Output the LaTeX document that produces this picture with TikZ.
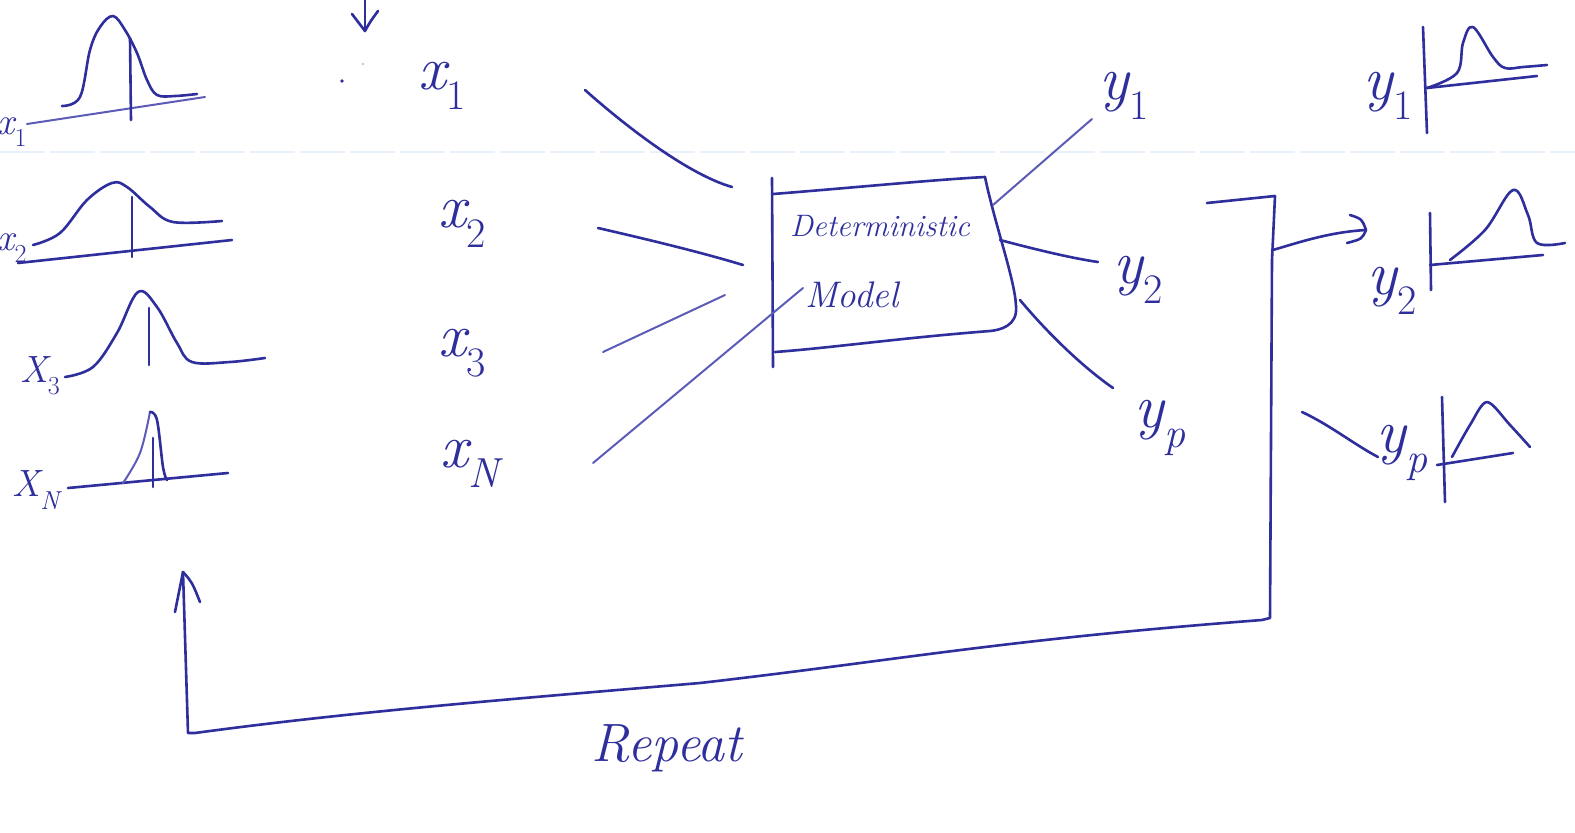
\documentclass[tikz,border=0pt]{standalone}
\usetikzlibrary{arrows.meta}
\definecolor{inkc}{RGB}{46,46,156}
\definecolor{inkl}{RGB}{92,92,184}
\definecolor{ruleblue}{RGB}{232,241,249}
\newcommand{\bigsub}[1]{\raisebox{-0.32em}{\upshape\fontsize{42}{46}\selectfont #1}}
\newcommand{\bigsubi}[1]{\raisebox{-0.32em}{\itshape\fontsize{42}{46}\selectfont #1}}
\newcommand{\smsub}[1]{\raisebox{-0.32em}{\upshape\fontsize{26}{30}\selectfont #1}}
\newcommand{\smsubi}[1]{\raisebox{-0.32em}{\itshape\fontsize{26}{30}\selectfont #1}}
\begin{document}
\begin{tikzpicture}[x=1pt,y=-1pt,
  pen/.style={draw=inkc,line width=2.6pt,line cap=round,line join=round},
  penl/.style={draw=inkl,line width=2pt,line cap=round,line join=round},
  biglbl/.style={text=inkc,inner sep=0pt,font=\itshape\fontsize{62}{70}\selectfont},
  distlbl/.style={text=inkc,inner sep=0pt,font=\itshape\fontsize{38}{44}\selectfont},
  wordlbl/.style={text=inkc,inner sep=0pt,font=\itshape\fontsize{31}{36}\selectfont},
  modlbl/.style={text=inkc,inner sep=0pt,font=\itshape\fontsize{37}{42}\selectfont},
  replbl/.style={text=inkc,inner sep=0pt,font=\itshape\fontsize{54}{62}\selectfont}]
\useasboundingbox (0,0) rectangle (1575,833);
\fill[white] (0,0) rectangle (1575,833);
% faint ruled line of the paper
\draw[ruleblue,line width=1.2pt,dash pattern=on 45pt off 5pt] (0,152) -- (1575,152);

% top arrow and dots
\coordinate (ta) at (365,-2);
\coordinate (tb) at (365,31);
\draw[pen] (ta) -- (tb);
\draw[pen] (352,14) .. controls (358,22) .. (tb) .. controls (370,22) .. (378,11);
\fill[inkc] (342,81) circle (1.8);
\fill[inkl!50] (363,64) circle (1.2);

% ---------- input distributions ----------
% x1
\node[distlbl] (dl1) at (12,132) {x\smsub{1}};
\draw[penl] (27,124) -- (205,97);
\draw[pen] plot[smooth,tension=0.6] coordinates {(62,106) (80,97) (90,50) (100,27) (113,16) (125,30) (137,53) (147,80) (157,95) (175,96) (197,94)};
\draw[pen] (130,38) -- (131,120);
% x2
\node[distlbl] (dl2) at (12,248) {x\smsub{2}};
\draw[pen] (18,263) -- (232,240);
\draw[pen] plot[smooth,tension=0.6] coordinates {(33,245) (60,233) (87,200) (112,183) (127,187) (150,207) (173,222) (222,221)};
\draw[pen] (132,197) -- (132,257);
% x3
\node[distlbl] (dl3) at (40,376) {X\smsub{3}};
\draw[pen] plot[smooth,tension=0.6] coordinates {(65,377) (93,367) (117,333) (138,292) (157,307) (177,343) (192,362) (230,362) (265,358)};
\draw[pen] (149,308) -- (149,365);
% xN
\node[distlbl] (dl4) at (36,490) {X\smsubi{N}};
\draw[pen] (68,488) -- (228,473);
\draw[penl] plot[smooth,tension=0.6] coordinates {(123,483) (140,453) (150,412)};
\draw[pen] plot[smooth,tension=0.6] coordinates {(150,412) (157,420) (163,467) (167,480)};
\draw[pen] (153,438) -- (153,487);

% ---------- input variables ----------
\node[biglbl] (x1) at (442,86) {x\bigsub{1}};
\node[biglbl] (x2) at (462,224) {x\bigsub{2}};
\node[biglbl] (x3) at (462,353) {x\bigsub{3}};
\node[biglbl] (xN) at (470,464) {x\bigsubi{N}};

% ---------- model box ----------
\draw[pen] (772,178) -- (773,367);
\draw[pen] (773,194) .. controls (850,188) and (930,180) .. (985,177);
\draw[pen] (985,177) .. controls (995,225) and (1015,280) .. (1016,306)
  .. controls (1018,326) and (1000,330) .. (990,331)
  .. controls (900,338) and (830,348) .. (775,352);
\node[wordlbl] (det) at (880,226) {Deterministic};
\node[modlbl] (mod) at (852,295) {Model};

% connector end points on the box
\coordinate (i1a) at (585,90);   \coordinate (i1b) at (732,187);
\coordinate (i2a) at (598,228);  \coordinate (i2b) at (743,265);
\coordinate (i3a) at (603,352);  \coordinate (i3b) at (725,295);
\coordinate (i4a) at (593,463);  \coordinate (i4b) at (803,288);
\draw[pen] (i1a) .. controls (630,130) and (690,175) .. (i1b);
\draw[pen] (i2a) .. controls (650,240) and (700,252) .. (i2b);
\draw[penl] (i3a) -- (i3b);
\draw[penl] (i4a) -- (i4b);

% ---------- outputs ----------
\coordinate (o1a) at (993,205);  \coordinate (o1b) at (1092,119);
\coordinate (o2a) at (1000,240); \coordinate (o2b) at (1098,262);
\coordinate (o3a) at (1020,300); \coordinate (o3b) at (1113,388);
\draw[penl] (o1a) -- (o1b);
\draw[pen] (o2a) .. controls (1030,248) and (1070,258) .. (o2b);
\draw[pen] (o3a) .. controls (1045,330) and (1080,365) .. (o3b);
\node[biglbl] (y1) at (1124,96) {y\bigsub{1}};
\node[biglbl] (y2) at (1138,280) {y\bigsub{2}};
\node[biglbl] (yp) at (1160,428) {y\bigsubi{p}};

% ---------- feedback loop ----------
\coordinate (la) at (1207,203);
\coordinate (lc) at (1270,618);
\coordinate (ld) at (188,733);
\coordinate (le) at (183,572);
\draw[pen] (la) -- (1275,196) -- (1272,260) -- (lc)
  -- (1262,620)
  .. controls (1000,640) and (900,660) .. (700,683)
  .. controls (500,700) and (350,712) .. (195,733) -- (ld)
  -- (le);
\draw[pen] (175,612) -- (le) .. controls (192,582) .. (200,602);
\node[replbl] (rep) at (667,748) {Repeat};

% arrow to the output distributions
\coordinate (aa) at (1273,250);
\coordinate (ab) at (1366,230);
\draw[pen] (aa) .. controls (1300,242) and (1330,232) .. (ab);
\draw[pen] (1350,215) .. controls (1362,219) .. (ab) .. controls (1362,239) .. (1347,243);
\coordinate (ba) at (1302,412);
\coordinate (bb) at (1378,457);
\draw[pen] (ba) .. controls (1330,425) and (1355,445) .. (bb);

% ---------- output distributions ----------
% y1
\node[biglbl] (ry1) at (1388,96) {y\bigsub{1}};
\draw[pen] (1423,27) -- (1427,133);
\draw[pen] (1427,88) -- (1537,76);
\draw[pen] plot[smooth,tension=0.6] coordinates {(1427,88) (1457,73) (1463,43) (1473,27) (1493,57) (1505,68) (1523,67) (1547,65)};
% y2
\node[biglbl] (ry2) at (1392,291) {y\bigsub{2}};
\draw[pen] (1430,213) -- (1431,290);
\draw[pen] (1430,265) -- (1543,255);
\draw[pen] plot[smooth,tension=0.6] coordinates {(1450,260) (1485,230) (1513,190) (1528,215) (1537,243) (1565,243)};
% yp
\node[biglbl] (ryp) at (1402,453) {y\bigsubi{p}};
\draw[pen] (1442,397) -- (1445,502);
\draw[pen] (1437,465) -- (1513,453);
\draw[pen] plot[smooth,tension=0.5] coordinates {(1452,457) (1470,425) (1487,402) (1510,425) (1530,447)};
\end{tikzpicture}
\end{document}
